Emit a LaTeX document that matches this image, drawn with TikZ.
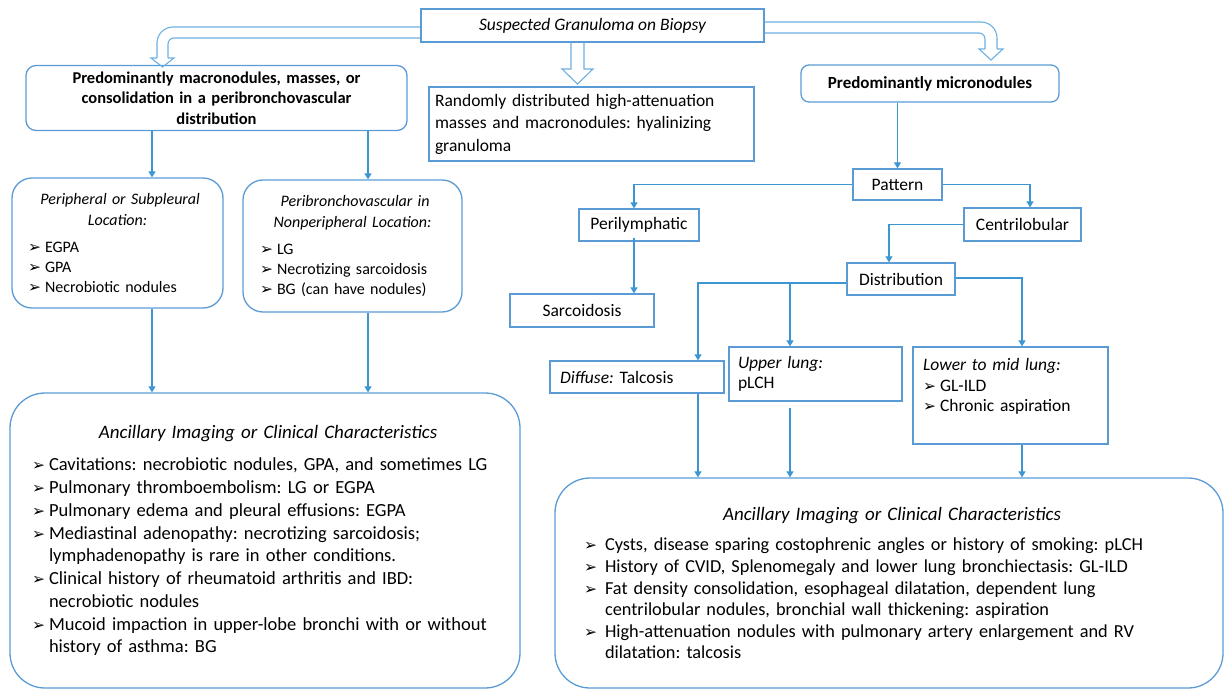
\documentclass[tikz,border=0pt]{standalone}
\usepackage{fontspec}
\setmainfont{Carlito}
\newfontfamily\symfont{DejaVu Sans}
\usetikzlibrary{arrows.meta}

\definecolor{boxblue}{RGB}{91,155,213}
\definecolor{lineblue}{RGB}{60,150,210}
\definecolor{hollowblue}{RGB}{110,175,225}

\frenchspacing
\newcommand{\fs}[2]{\fontsize{#1}{#2}\selectfont}
\newcommand{\bul}{\raisebox{0pt}{\symfont\fontsize{15.5}{15.5}\selectfont ➢}}
\newcommand{\bitem}[2]{\par\noindent\hangindent=#1\hangafter=1\makebox[#1][l]{\bul}#2}

\begin{document}
\begin{tikzpicture}[x=1pt,y=-1pt,
                    sq box/.style={draw=boxblue,line width=1.3pt,rectangle,inner sep=3pt,font=\fs{17.5}{20.5}},
                    rd box/.style={sq box,rounded corners=10pt},
                    conn/.style={draw=lineblue,line width=1.2pt,-{Triangle[width=7pt,length=6pt]}},
                    hollow/.style={draw=hollowblue,line width=1.1pt}
                   ]
  \useasboundingbox (0,0) rectangle (1225,690);

  % top row
  \node[sq box,minimum width=343pt,minimum height=33pt,font=\fs{17.5}{20}\itshape] (top) at (592.5,25.5) {Suspected Granuloma on Biopsy};
  \node[rd box,minimum width=381pt,minimum height=65pt,text width=370pt,align=center,font=\fs{16.5}{20.5}\bfseries] (macro) at (216.5,98) {Predominantly macronodules, masses, or\\ consolidation in a peribronchovascular\\ distribution};
  \node[sq box,minimum width=325pt,minimum height=74pt,text width=313pt,align=left,font=\fs{17.5}{22.5}] (random) at (591.5,124) {Randomly distributed high-attenuation\\ masses and macronodules: hyalinizing\\ granuloma};
  \node[rd box,rounded corners=8pt,minimum width=258pt,minimum height=37pt,font=\fs{17}{20}\bfseries] (micro) at (930,83.5) {Predominantly micronodules};

  % left branch
  \node[rd box,rounded corners=20pt,minimum width=211pt,minimum height=130pt,text width=179pt,align=left,font=\fs{16}{20}] (periph) at (117.5,243) {%
    {\centering\itshape\fs{16}{21} Peripheral or Subpleural\\ Location:\par}\vspace{7pt}
    \bitem{17pt}{EGPA}
    \bitem{17pt}{GPA}
    \bitem{17pt}{Necrobiotic nodules}\par};
  \node[rd box,rounded corners=20pt,minimum width=219pt,minimum height=132pt,text width=185pt,align=left,font=\fs{16}{20}] (peribr) at (352.5,246) {%
    {\centering\itshape\fs{16}{21} Peribronchovascular in\\ Nonperipheral Location:\par}\vspace{7pt}
    \bitem{17pt}{LG}
    \bitem{17pt}{Necrotizing sarcoidosis}
    \bitem{17pt}{BG (can have nodules)}\par};
  \node[rd box,rounded corners=35pt,minimum width=510pt,minimum height=295pt,text width=466pt,align=left,font=\fs{18.5}{22.75}] (ancL) at (265,540.5) {%
    {\centering\itshape\fs{19}{22} Ancillary Imaging or Clinical Characteristics\par}\vspace{10pt}
    \bitem{17pt}{Cavitations: necrobiotic nodules, GPA, and sometimes LG}
    \bitem{17pt}{Pulmonary thromboembolism: LG or EGPA}
    \bitem{17pt}{Pulmonary edema and pleural effusions: EGPA}
    \bitem{17pt}{Mediastinal adenopathy: necrotizing sarcoidosis;\newline lymphadenopathy is rare in other conditions.}
    \bitem{17pt}{Clinical history of rheumatoid arthritis and IBD:\newline necrobiotic nodules}
    \bitem{17pt}{Mucoid impaction in upper-lobe bronchi with or without\newline history of asthma: BG}\par};

  % right branch
  \node[sq box,minimum width=89pt,minimum height=31pt] (pattern) at (897.5,184.5) {Pattern};
  \node[sq box,minimum width=120pt,minimum height=32pt] (peril) at (639,225) {Perilymphatic};
  \node[sq box,minimum width=117pt,minimum height=33pt] (centri) at (1022.5,224.5) {Centrilobular};
  \node[sq box,minimum width=108pt,minimum height=32pt] (distr) at (901,279) {Distribution};
  \node[sq box,minimum width=144pt,minimum height=33pt] (sarc) at (582,310.5) {Sarcoidosis};
  \node[sq box,minimum width=174pt,minimum height=32pt,text width=154pt,align=left] (diffuse) at (637,377) {\textit{Diffuse:} Talcosis};
  \node[sq box,minimum width=173pt,minimum height=54pt,text width=155pt,align=left] (upper) at (815.5,374) {\textit{Upper lung:}\\ pLCH};
  \node[sq box,minimum width=195pt,minimum height=97pt,text width=175pt,align=left] (lower) at (1010.5,395.5) {%
    \textit{Lower to mid lung:}
    \bitem{17pt}{GL-ILD}
    \bitem{17pt}{Chronic aspiration}\par\mbox{}\par};
  \node[rd box,rounded corners=35pt,minimum width=668pt,minimum height=210pt,text width=610pt,align=left,font=\fs{18.3}{21.6}] (ancR) at (889,583) {%
    {\centering\itshape\fs{19}{22} Ancillary Imaging or Clinical Characteristics\par}\vspace{9pt}
    \bitem{21pt}{Cysts, disease sparing costophrenic angles or history of smoking: pLCH}
    \bitem{21pt}{History of CVID, Splenomegaly and lower lung bronchiectasis: GL-ILD}
    \bitem{21pt}{Fat density consolidation, esophageal dilatation, dependent lung\newline centrilobular nodules, bronchial wall thickening: aspiration}
    \bitem{21pt}{High-attenuation nodules with pulmonary artery enlargement and RV\newline dilatation: talcosis}\par};

  % hollow arrows out of the top box
  \draw[hollow,rounded corners=16pt] ([yshift=-1.5pt]top.west) -- (157,27) -- (157,58);
  \draw[hollow,rounded corners=6pt] ([yshift=-12.5pt]top.west) -- (168,38) -- (168,58);
  \draw[hollow] (157,58) -- (151,58) -- (162.5,67) -- (174,58) -- (168,58);
  \draw[hollow] ([xshift=-21.5pt]top.south) -- (571,69) -- (562,69) -- (577.5,84) -- (593,69) -- (584,69) -- ([xshift=-8.5pt]top.south);
  \draw[hollow,rounded corners=16pt] ([yshift=3.5pt]top.east) -- (997,22) -- (997,49);
  \draw[hollow,rounded corners=6pt] ([yshift=-7.5pt]top.east) -- (985,33) -- (985,49);
  \draw[hollow] (985,49) -- (979,49) -- (991,60) -- (1003,49) -- (997,49);

  % connectors, left
  \coordinate (pin) at ([xshift=34.5pt]periph.north);
  \coordinate (pout) at ([xshift=34.5pt]periph.south);
  \coordinate (bin) at ([xshift=15.5pt]peribr.north);
  \coordinate (bout) at ([xshift=15.5pt]peribr.south);
  \draw[conn] (macro.south -| pin) -- (pin);
  \draw[conn] (macro.south -| bin) -- (bin);
  \draw[conn] (pout) -- (pout |- ancL.north);
  \draw[conn] (bout) -- (bout |- ancL.north);

  % connectors, right
  \coordinate (lin) at ([xshift=-5pt]peril.north);
  \coordinate (lout) at ([xshift=-5pt]peril.south);
  \coordinate (dsplit) at ([yshift=-4pt]distr.west);
  \coordinate (fin) at ([xshift=61pt]diffuse.north);
  \coordinate (fout) at ([xshift=61pt]diffuse.south);
  \coordinate (uin) at ([xshift=-25.5pt]upper.north);
  \coordinate (uout) at ([xshift=-25.5pt]upper.south);
  \coordinate (win) at ([xshift=11.5pt]lower.north);
  \coordinate (wout) at ([xshift=11.5pt]lower.south);
  \draw[conn] (micro.south -| pattern.north) -- (pattern.north);
  \draw[conn] (pattern.west) -| (lin);
  \draw[conn] (pattern.east) -| ([xshift=7.5pt]centri.north);
  \draw[conn] (centri.west) -| ([xshift=-12pt]distr.north);
  \draw[conn] ([yshift=4pt]lout) -- (lout |- sarc.north);
  \draw[conn] (dsplit) -| (fin);
  \draw[conn] (dsplit -| uin) -- (uin);
  \draw[conn] ([yshift=1pt]distr.east) -| (win);
  \draw[conn] (fout) -- (fout |- ancR.north);
  \draw[conn] ([yshift=-6pt]uout) -- (uout |- ancR.north);
  \draw[conn] (wout) -- (wout |- ancR.north);
\end{tikzpicture}
\end{document}
